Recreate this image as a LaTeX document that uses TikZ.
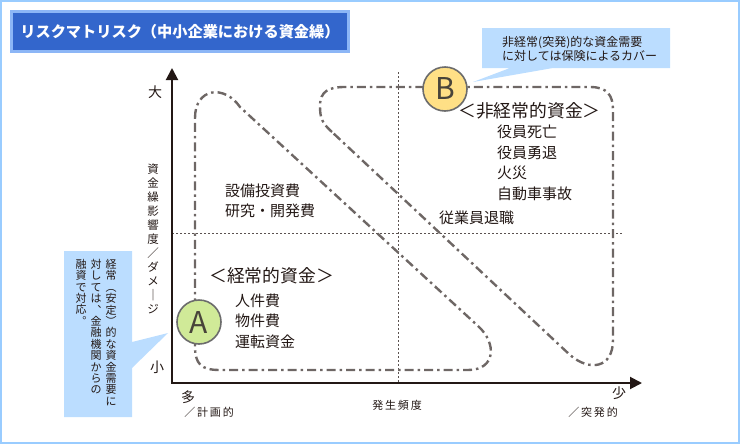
\documentclass[tikz,border=0pt]{standalone}
\usepackage{fontspec}
\setmainfont{Noto Sans CJK JP}
\usetikzlibrary{arrows.meta,positioning}
\definecolor{frameblue}{RGB}{153,204,255}
\definecolor{titleblue}{RGB}{51,102,204}
\definecolor{titleedge}{RGB}{140,182,246}
\definecolor{notefill}{RGB}{187,221,255}
\definecolor{axisdark}{RGB}{35,24,21}
\definecolor{zonegray}{RGB}{110,103,101}
\definecolor{greenA}{RGB}{208,234,152}
\definecolor{yellowB}{RGB}{255,224,134}
\definecolor{lettergray}{RGB}{72,68,58}

\begin{document}
\begin{tikzpicture}[x=1pt, y=-1pt,
  titlebox/.style={fill=titleblue, draw=titleedge, line width=3pt,
    minimum width=337pt, minimum height=40pt, text=white,
    font=\bfseries\fontsize{15.2}{15.2}\selectfont},
  axis/.style={draw=axisdark, line width=2pt,
    {Triangle[length=12pt,width=12pt]}-{Triangle[length=12pt,width=12pt]}},
  guide/.style={draw=axisdark!75, line width=0.9pt, dash pattern=on 2pt off 2pt},
  zone/.style={draw=zonegray, line width=2.4pt,
    dash pattern=on 9pt off 4pt on 2.5pt off 4pt},
  badge/.style={circle, draw=gray!85!black, line width=1.6pt, minimum size=44pt,
    inner sep=0pt, text=lettergray, font=\fontsize{30}{30}\selectfont},
  scalelbl/.style={inner sep=0pt, text=axisdark, font=\fontsize{14}{14}\selectfont},
  sidelbl/.style={inner sep=0pt, text=axisdark, font=\fontsize{11}{11}\selectfont},
  item/.style={anchor=west, inner sep=0pt, text=axisdark,
    font=\fontsize{15}{15}\selectfont},
  group/.style={anchor=west, inner sep=0pt, text=axisdark,
    font=\fontsize{17.8}{17.8}\selectfont},
  tatecol/.style={anchor=north, inner sep=0pt, align=center, text=axisdark},
  note/.style={fill=notefill},
]
  \useasboundingbox (0,0) rectangle (740,445);
  \draw[frameblue, line width=2pt] (1,1) rectangle (739,443);

  % title
  \node[titlebox] (title) at (180,31.5) {リスクマトリスク（中小企業における資金繰）};

  % axes and quadrant guides
  \coordinate (ytop) at (172,68);
  \coordinate (origin) at (172,383);
  \coordinate (xend) at (642,383);
  \draw[guide] (172,233) -- (622,233);
  \draw[guide] (398,72) -- (398,383);
  \draw[axis] (ytop) -- (origin) -- (xend);

  \node[scalelbl] (big) at (155,92) {大};
  \node[scalelbl] (small) at (157,367) {小};
  \node[scalelbl] (many) at (188,397) {多};
  \node[scalelbl] (few) at (619,393) {少};
  \node[sidelbl] (planned) at (209,412) {／\,計\,画\,的};
  \node[sidelbl] (freq) at (397,405) {発\,生\,頻\,度};
  \node[sidelbl] (sudden) at (593,412) {／\,突\,発\,的};
  \node[tatecol, font=\fontsize{11.5}{14}\selectfont] (ylabel) at (153,164)
    {資\\金\\繰\\影\\響\\度\\／\\ダ\\メ\\｜\\ジ};

  % zone A : regular funds
  \draw[zone] (195,118) .. controls (195,88) and (224,84) .. (240,107)
    -- (478,326) .. controls (497,343) and (496,370) .. (468,370)
    -- (220,370) .. controls (201,370) and (195,364) .. (195,346) -- cycle;

  % zone B : irregular funds
  \draw[zone] (332,132) .. controls (322,123) and (320,118) .. (320,106)
    .. controls (320,91) and (329,87) .. (345,87)
    -- (590,87) .. controls (607,87) and (613,95) .. (613,110)
    -- (613,340) .. controls (613,368) and (590,372) .. (570,355) -- cycle;

  \node[badge, fill=greenA] (A) at (199,322) {A};
  \node[badge, fill=yellowB] (B) at (445,89) {B};

  \node[item] (capex) at (225,191) {設備投資費};
  \node[item] (rnd) at (225,211) {研究・開発費};
  \node[group] (regular) at (209,276) {＜経常的資金＞};
  \node[item] (labor) at (235,301) {人件費};
  \node[item] (goods) at (235,321) {物件費};
  \node[item] (working) at (235,342) {運転資金};
  \node[group] (irregular) at (458,111) {＜非経常的資金＞};
  \node[item] (death) at (497,132) {役員死亡};
  \node[item] (retire) at (497,153) {役員勇退};
  \node[item] (fire) at (497,173) {火災};
  \node[item] (car) at (497,194) {自動車事故};
  \node[item] (staff) at (439,218) {従業員退職};

  % callout for B
  \fill[note] (482,28) -- (670,28) -- (670,68) -- (553,68) -- (473,82)
    -- (510,68) -- (482,68) -- cycle;
  \node[anchor=west, inner sep=0pt, align=left, text=axisdark,
    font=\fontsize{12}{14}\selectfont] (insure) at (502,48.5)
    {非経常(突発)的な資金需要\\に対しては保険によるカバー};

  % callout for A
  \fill[note] (64,251) -- (132,251) -- (132,342) -- (168,333) -- (132,368)
    -- (132,417) -- (64,417) -- cycle;
  \begin{scope}[every node/.append style={tatecol, font=\fontsize{11}{11.4}\selectfont}]
    \node (col1) at (111,259) {経\\常\\︵\\安\\定\\︶\\的\\な\\資\\金\\需\\要\\に};
    \node (col2) at (96,259) {対\\し\\て\\は\\︑\\金\\融\\機\\関\\か\\ら\\の};
    \node (col3) at (81,259) {融\\資\\で\\対\\応\\︒};
  \end{scope}
\end{tikzpicture}
\end{document}
